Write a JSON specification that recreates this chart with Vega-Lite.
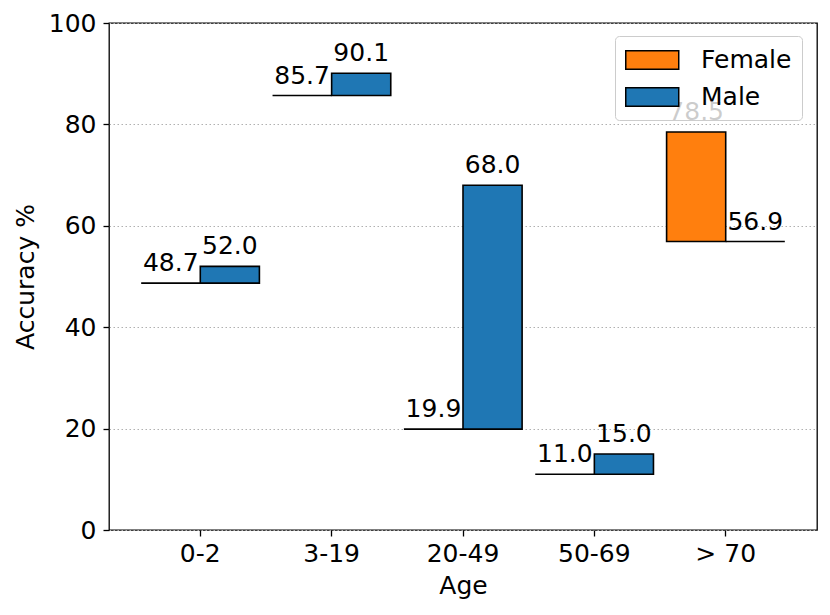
{
  "$schema": "https://vega.github.io/schema/vega-lite/v6.json",
  "width": 708,
  "height": 507,
  "autosize": {"type": "none"},
  "padding": {"left": 109, "top": 23, "right": 13, "bottom": 85},
  "background": "white",
  "data": {
    "values": [
      {"age": "0-2", "gender": "Female", "acc": 48.7, "low": 48.7},
      {"age": "0-2", "gender": "Male", "acc": 52.0, "low": 48.7},
      {"age": "3-19", "gender": "Female", "acc": 85.7, "low": 85.7},
      {"age": "3-19", "gender": "Male", "acc": 90.1, "low": 85.7},
      {"age": "20-49", "gender": "Female", "acc": 19.9, "low": 19.9},
      {"age": "20-49", "gender": "Male", "acc": 68.0, "low": 19.9},
      {"age": "50-69", "gender": "Female", "acc": 11.0, "low": 11.0},
      {"age": "50-69", "gender": "Male", "acc": 15.0, "low": 11.0},
      {"age": "> 70", "gender": "Female", "acc": 78.5, "low": 56.9},
      {"age": "> 70", "gender": "Male", "acc": 56.9, "low": 56.9}
    ]
  },
  "encoding": {
    "x": {
      "field": "age",
      "type": "nominal",
      "sort": null,
      "scale": {"paddingInner": 0.1, "paddingOuter": 0.245},
      "axis": {
        "title": "Age",
        "labelAngle": 0,
        "titleX": 354,
        "titleY": 63,
        "titleBaseline": "alphabetic",
        "titleAlign": "center"
      }
    },
    "xOffset": {
      "field": "gender",
      "type": "nominal",
      "scale": {"domain": ["Female", "Male"], "paddingInner": 0, "paddingOuter": 0}
    },
    "y": {
      "field": "acc",
      "type": "quantitative",
      "scale": {"domain": [0, 100], "nice": false},
      "axis": {
        "title": "Accuracy %",
        "values": [0, 20, 40, 60, 80, 100],
        "grid": true,
        "gridColor": "#b0b0b0",
        "gridDash": [1.5, 2.5],
        "gridWidth": 1,
        "titleAngle": 270,
        "titleX": -76,
        "titleY": 253.5,
        "titleBaseline": "alphabetic",
        "titleAlign": "center",
        "labelPadding": 7
      }
    }
  },
  "layer": [
    {
      "mark": {"type": "bar", "stroke": "black", "strokeWidth": 1.6},
      "encoding": {
        "y2": {"field": "low"},
        "color": {
          "field": "gender",
          "type": "nominal",
          "scale": {"domain": ["Female", "Male"], "range": ["#ff7f0e", "#1f77b4"]},
          "legend": {
            "orient": "none",
            "legendX": 506,
            "legendY": 13,
            "title": null,
            "symbolType": "M-1,-0.7H3V0.7H-1Z",
            "symbolSize": 702,
            "symbolStrokeColor": "black",
            "symbolStrokeWidth": 1.5,
            "symbolOpacity": 1,
            "labelFontSize": 25,
            "labelFont": "DejaVu Sans",
            "labelColor": "black",
            "labelOffset": 48,
            "padding": 10,
            "rowPadding": 10,
            "fillColor": "rgba(255,255,255,0.8)",
            "strokeColor": "#cccccc",
            "cornerRadius": 4
          }
        }
      }
    },
    {
      "mark": {
        "type": "text",
        "baseline": "alphabetic",
        "dy": -12,
        "fontSize": 25,
        "font": "DejaVu Sans",
        "color": "black"
      },
      "encoding": {
        "text": {"field": "acc", "type": "quantitative", "format": ".1f"}
      }
    }
  ],
  "config": {
    "font": "DejaVu Sans",
    "view": {"stroke": "black", "strokeWidth": 1.3},
    "axis": {
      "domain": false,
      "labelFont": "DejaVu Sans",
      "titleFont": "DejaVu Sans",
      "labelFontSize": 25,
      "titleFontSize": 25,
      "titleFontWeight": "normal",
      "labelColor": "black",
      "titleColor": "black",
      "tickColor": "black",
      "tickSize": 6,
      "tickWidth": 1.3
    },
    "axisX": {"grid": false, "labelPadding": 5}
  }
}
